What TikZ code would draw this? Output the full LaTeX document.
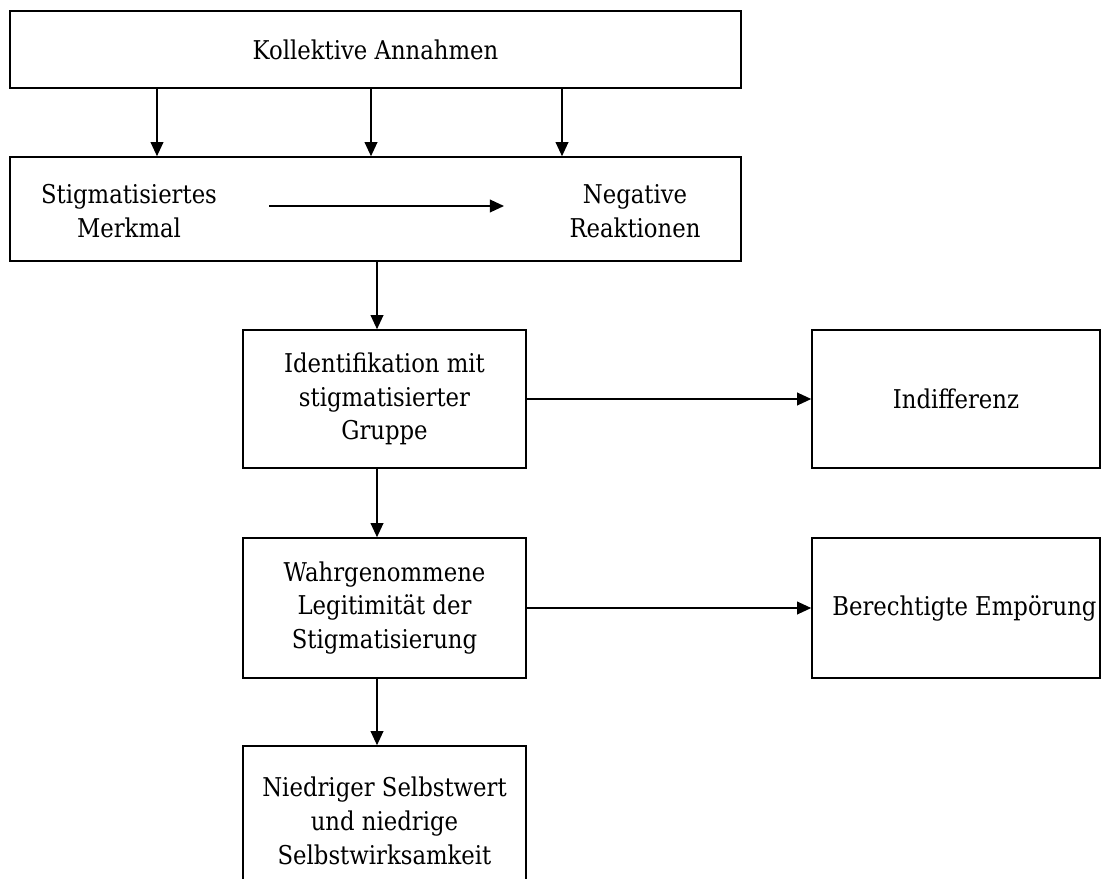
\documentclass[tikz,border=0pt]{standalone}
\usepackage{fontspec}
\setmainfont{DejaVu Serif}[FakeStretch=0.88]
\usetikzlibrary{arrows.meta}
\begin{document}
\begin{tikzpicture}[x=0.025cm,y=-0.025cm,
  box/.style={draw=black,line width=1.1pt,rectangle,inner sep=0pt,align=center,
    font=\fontsize{18.4}{24}\selectfont},
  lbl/.style={inner sep=0pt,align=center,font=\fontsize{18.4}{24}\selectfont},
  arr/.style={line width=1.1pt,-{Triangle[length=10pt,width=9pt]}}]
\useasboundingbox[fill=white] (0,0) rectangle (1103,879);
% boxes
\node[box,minimum width=731*0.025cm,minimum height=77*0.025cm] (top) at (375.5,49.5) {Kollektive Annahmen};
\node[box,minimum width=731*0.025cm,minimum height=104*0.025cm] (mid) at (375.5,209) {};
\node[lbl] (sm) at (129,211) {Stigmatisiertes\\Merkmal};
\node[lbl] (nr) at (635,211) {Negative\\Reaktionen};
\node[box,minimum width=283*0.025cm,minimum height=138*0.025cm] (ident) at (384.5,399) {Identifikation mit\\stigmatisierter\\Gruppe};
\node[box,minimum width=288*0.025cm,minimum height=138*0.025cm] (indiff) at (956,399) {Indifferenz};
\node[box,minimum width=283*0.025cm,minimum height=140*0.025cm] (wahrg) at (384.5,608) {Wahrgenommene\\Legitimität der\\Stigmatisierung};
\node[box,minimum width=288*0.025cm,minimum height=140*0.025cm] (ber) at (956,608) {\hspace*{12pt}Berechtigte Empörung};
\node[box,minimum width=283*0.025cm,minimum height=150*0.025cm] (low) at (384.5,821) {Niedriger Selbstwert\\und niedrige\\Selbstwirksamkeit};
% helper coordinates
\coordinate (c1) at (157,0);
\coordinate (c2) at (371,0);
\coordinate (c3) at (562,0);
\coordinate (c4) at (377,0);
\coordinate (ia) at (269,206);
\coordinate (ib) at (504,206);
% connectors
\draw[arr] (top.south -| c1) -- (mid.north -| c1);
\draw[arr] (top.south -| c2) -- (mid.north -| c2);
\draw[arr] (top.south -| c3) -- (mid.north -| c3);
\draw[arr] (ia) -- (ib);
\draw[arr] (mid.south -| c4) -- (ident.north -| c4);
\draw[arr] (ident.south -| c4) -- (wahrg.north -| c4);
\draw[arr] (wahrg.south -| c4) -- (low.north -| c4);
\draw[arr] (ident.east) -- (indiff.west);
\draw[arr] (wahrg.east) -- (ber.west);
\end{tikzpicture}
\end{document}
